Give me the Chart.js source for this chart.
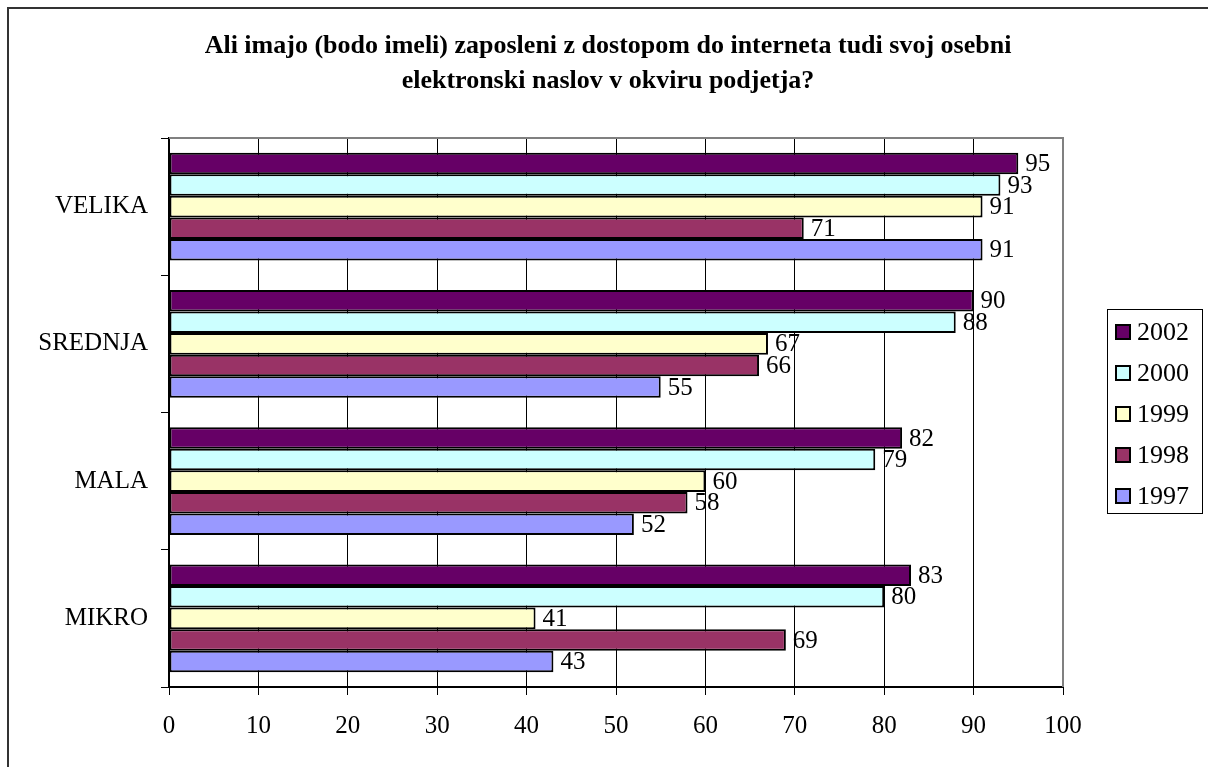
<!DOCTYPE html>
<html>
<head>
<meta charset="utf-8">
<script src="https://cdn.jsdelivr.net/npm/chart.js@4.4.0/dist/chart.umd.min.js"></script>
<style>
  html, body { margin: 0; padding: 0; background: #fff; }
  canvas { display: block; }
</style>
</head>
<body>
<canvas id="myChart" width="1208" height="767"></canvas>
<script>
// data
var categories = ["VELIKA", "SREDNJA", "MALA", "MIKRO"];
var years = ["2002", "2000", "1999", "1998", "1997"];
var values2002 = [95, 90, 82, 83];
var values2000 = [93, 88, 79, 80];
var values1999 = [91, 67, 60, 41];
var values1998 = [71, 66, 58, 69];
var values1997 = [91, 55, 52, 43];
var xTickValues = [0, 10, 20, 30, 40, 50, 60, 70, 80, 90, 100];
var titleLines = [
    "Ali imajo (bodo imeli) zaposleni z dostopom do interneta tudi svoj osebni",
    "elektronski naslov v okviru podjetja?"
];
var barColors = ["#660066", "#CCFFFF", "#FFFFCC", "#993366", "#9999FF"];

var serif = "'Liberation Serif', 'Times New Roman', serif";
var allValues = [values2002, values2000, values1999, values1998, values1997];

var datasets = years.map(function(y, i){
    return {
        label: y,
        data: allValues[i],
        backgroundColor: barColors[i],
        borderColor: "#000",
        borderWidth: 2,
        borderSkipped: false,
        categoryPercentage: 0.786,
        barPercentage: 1.0
    };
});

// outer frame, title, legend, plot border and value labels
var decorPlugin = {
    id: 'decor',
    beforeDraw: function(chart){
        var ctx = chart.ctx;
        ctx.save();
        ctx.fillStyle = "#fff";
        ctx.fillRect(0, 0, chart.width, chart.height);
        ctx.strokeStyle = "#333";
        ctx.lineWidth = 2;
        ctx.beginPath();
        ctx.moveTo(8, chart.height + 5);
        ctx.lineTo(8, 8);
        ctx.lineTo(chart.width + 5, 8);
        ctx.stroke();

        ctx.fillStyle = "#000";
        ctx.font = "bold 26px " + serif;
        ctx.textAlign = "center";
        ctx.textBaseline = "alphabetic";
        ctx.fillText(titleLines[0], 608, 53);
        ctx.fillText(titleLines[1], 608, 88);
        ctx.restore();
    },
    afterDatasetsDraw: function(chart){
        var ctx = chart.ctx;
        ctx.save();
        ctx.fillStyle = "#000";
        ctx.font = "25px " + serif;
        ctx.textAlign = "left";
        ctx.textBaseline = "middle";
        chart.data.datasets.forEach(function(ds, i){
            chart.getDatasetMeta(i).data.forEach(function(bar, j){
                ctx.fillText(String(ds.data[j]), bar.x + 7, bar.y + 1);
            });
        });
        ctx.restore();
    },
    afterDraw: function(chart){
        var ctx = chart.ctx;
        var a = chart.chartArea;
        ctx.save();
        ctx.strokeStyle = "#808080";
        ctx.lineWidth = 2;
        ctx.beginPath();
        ctx.moveTo(a.left, a.top);
        ctx.lineTo(a.right, a.top);
        ctx.lineTo(a.right, a.bottom);
        ctx.stroke();

        // legend
        var lx = 1107, ly = 309, lw = 95, lh = 204;
        ctx.strokeStyle = "#000";
        ctx.lineWidth = 1;
        ctx.strokeRect(lx + 0.5, ly + 0.5, lw, lh);
        ctx.font = "26px " + serif;
        ctx.textAlign = "left";
        ctx.textBaseline = "middle";
        chart.data.datasets.forEach(function(ds, i){
            var cy = 332 + i * 41;
            ctx.fillStyle = ds.backgroundColor;
            ctx.fillRect(1116, cy - 7, 14, 14);
            ctx.lineWidth = 2;
            ctx.strokeRect(1116, cy - 7, 14, 14);
            ctx.fillStyle = "#000";
            ctx.fillText(ds.label, 1137, cy + 1);
        });
        ctx.restore();
    }
};

var ctx = document.getElementById("myChart").getContext('2d');
var myChart = new Chart(ctx, {
    type: 'bar',
    data: {
        labels: categories,
        datasets: datasets
    },
    options: {
        indexAxis: 'y',
        responsive: false,
        animation: false,
        devicePixelRatio: 1,
        layout: {
            padding: { top: 138, right: 145, bottom: 0, left: 0 }
        },
        plugins: {
            legend: { display: false },
            title: { display: false },
            tooltip: { enabled: false }
        },
        scales: {
            x: {
                min: 0,
                max: 100,
                afterBuildTicks: function(scale){
                    scale.ticks = xTickValues.map(function(v){ return { value: v }; });
                },
                afterFit: function(scale){ scale.height = 80; },
                grid: {
                    color: "#000",
                    lineWidth: 1,
                    tickLength: 8,
                    drawOnChartArea: true
                },
                border: { display: true, color: "#000", width: 2 },
                ticks: {
                    color: "#000",
                    font: { family: serif, size: 25 },
                    padding: 16,
                    maxRotation: 0,
                    autoSkip: false
                }
            },
            y: {
                afterFit: function(scale){ scale.width = 169; },
                grid: {
                    color: "#000",
                    lineWidth: 1,
                    tickLength: 8,
                    drawOnChartArea: false,
                    offset: true
                },
                border: { display: true, color: "#000", width: 2 },
                ticks: {
                    color: "#000",
                    font: { family: serif, size: 25 },
                    padding: 13
                }
            }
        }
    },
    plugins: [decorPlugin]
});
</script>
</body>
</html>
